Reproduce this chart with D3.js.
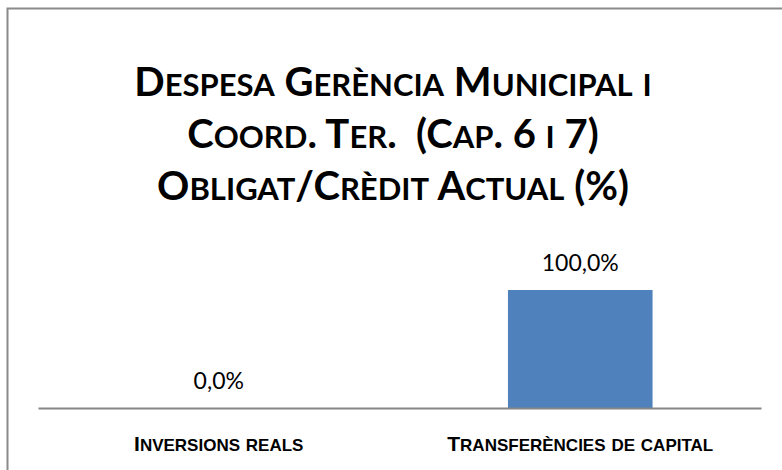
<!DOCTYPE html>
<html>
<head>
<meta charset="utf-8">
<script src="https://cdn.jsdelivr.net/npm/d3@7"></script>
<style>
  html, body { margin: 0; padding: 0; background: #fff; }
  svg { display: block; font-family: Lato, "Open Sans", sans-serif; }
  .title { font-weight: 700; fill: #000; }
  .cat text { font-weight: 700; fill: #000; }
  .val { font-size: 23px; fill: #000; }
</style>
</head>
<body>
<svg id="chart" width="782" height="470"></svg>
<script>
// chart data
const titleLines = ["Despesa Gerència Municipal i", "Coord. Ter.  (Cap. 6 i 7)", "Obligat/Crèdit Actual (%)"];
const categories = ["Inversions reals", "Transferències de capital"];
const values = [0.0, 100.0];

const W = 782, H = 470;
const svg = d3.select('#chart');

// fake small caps: capitals / digits at full size, lower case letters upper-cased smaller
function smallCaps(sel, big, small) {
  sel.each(function(){
    const t = d3.select(this);
    const s = t.text();
    t.text(null);
    const runs = [];
    for (const ch of s) {
      const low = ch !== ch.toUpperCase();
      const last = runs[runs.length - 1];
      if (last && last.low === low) last.s += ch;
      else runs.push({ low, s: ch });
    }
    runs.forEach(r => {
      t.append('tspan')
        .attr('font-size', r.low ? small : big)
        .text(r.low ? r.s.toUpperCase() : r.s);
    });
  });
}

// outer frame (runs off the right / bottom edge like the source)
svg.append('rect')
  .attr('x', 7.5).attr('y', 8.5)
  .attr('width', 820).attr('height', 500)
  .attr('fill', 'none')
  .attr('stroke', '#8a8a8a')
  .attr('stroke-width', 2);

// title, three centred lines
svg.append('g').selectAll('text')
  .data(titleLines)
  .join('text')
  .attr('class', 'title')
  .attr('x', 393)
  .attr('y', (d, i) => 96 + i * 52)
  .attr('text-anchor', 'middle')
  .style('white-space', 'pre')
  .text(d => d)
  .call(smallCaps, 40, 31);

// scales
const baseY = 408;
const x = d3.scaleBand()
  .domain(categories)
  .range([38, 761])
  .paddingInner(0.6)
  .paddingOuter(0.3);

const y = d3.scaleLinear()
  .domain([0, 120])
  .range([baseY, baseY - 118 * 1.2]);

const data = categories.map((c, i) => ({ cat: c, v: values[i] }));

// bars
svg.append('g').selectAll('rect')
  .data(data)
  .join('rect')
  .attr('x', d => x(d.cat))
  .attr('y', d => y(d.v))
  .attr('width', x.bandwidth())
  .attr('height', d => y(0) - y(d.v))
  .attr('fill', '#4f81bd');

// category axis (no ticks)
const axis = svg.append('g')
  .attr('class', 'cat')
  .attr('transform', `translate(0,${baseY})`)
  .call(d3.axisBottom(x).tickSize(0).tickPadding(28));
axis.select('.domain')
  .attr('stroke', '#868686')
  .attr('stroke-width', 2);
axis.selectAll('text')
  .attr('font-family', null)
  .attr('font-size', 21)
  .call(smallCaps, 21, 17);

// value labels, catalan decimal comma
const ca = d3.formatLocale({ decimal: ',', thousands: '.', grouping: [3], currency: ['', '€'] });
const fmt = ca.format('.1f');

svg.append('g').selectAll('text')
  .data(data)
  .join('text')
  .attr('class', 'val')
  .attr('x', d => x(d.cat) + x.bandwidth() / 2)
  .attr('y', d => y(d.v) - 19)
  .attr('text-anchor', 'middle')
  .text(d => fmt(d.v) + '%');
</script>
</body>
</html>
